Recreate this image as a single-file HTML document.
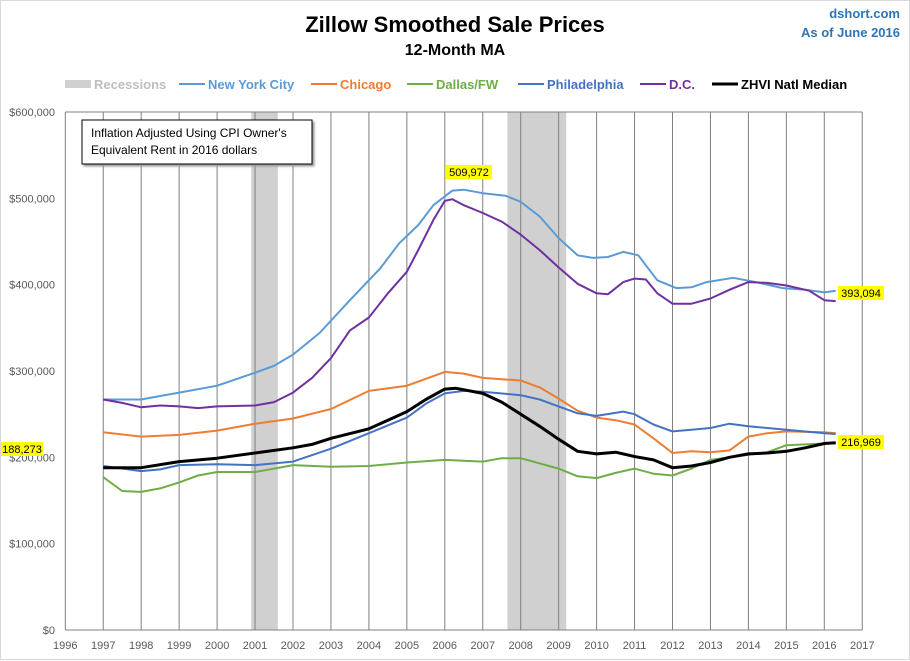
<!DOCTYPE html>
<html><head><meta charset="utf-8"><style>
body{margin:0;background:#fff;font-family:"Liberation Sans",sans-serif}
#wrap{position:relative;width:910px;height:661px;overflow:hidden}
</style></head><body>
<div id="wrap">
<svg id="chart" width="910" height="661" font-family="Liberation Sans, sans-serif"></svg>
</div>
<script>
const yearsNYC=[1997,1998,1998.5,1999,2000,2001,2001.5,2002,2002.7,2003.5,2004.3,2004.8,2005.3,2005.7,2006.2,2006.5,2007,2007.6,2008,2008.5,2009,2009.5,2009.9,2010.3,2010.7,2011.1,2011.6,2012.1,2012.5,2012.9,2013.6,2014.2,2014.9,2015.5,2016,2016.3];
const valsNYC=[267,267,271,275,283,298,306,319,344,382,419,448,469,492,509,510,506,503,496,479,454,434,431,432,438,434,405,396,397,403,408,403,396,394,391,393];
const yearsChi=[1997,1998,1999,2000,2001,2002,2003,2004,2005,2006,2006.5,2007,2008,2008.5,2009,2009.5,2010,2010.5,2011,2011.5,2012,2012.5,2013,2013.5,2014,2014.5,2015,2016,2016.3];
const valsChi=[229,224,226,231,239,245,256,277,283,299,297,292,289,281,268,254,246,243,238,222,205,207,206,208,224,228,230,229,228];
const yearsDal=[1997,1997.5,1998,1998.5,1999,1999.5,2000,2001,2001.5,2002,2003,2004,2005,2006,2007,2007.5,2008,2009,2009.5,2010,2010.5,2011,2011.5,2012,2012.5,2013,2014,2014.5,2015,2016,2016.3];
const valsDal=[177,161,160,164,171,179,183,183,187,191,189,190,194,197,195,199,199,187,178,176,182,187,181,179,187,197,203,206,214,216,216];
const yearsPhi=[1997,1998,1998.5,1999,2000,2001,2002,2003,2004,2005,2005.5,2006,2006.5,2007,2008,2008.5,2009,2009.5,2010,2010.7,2011,2011.5,2012,2012.5,2013,2013.5,2014,2015,2016,2016.3];
const valsPhi=[190,184,186,191,192,191,195,210,228,246,262,274,277,276,272,267,259,251,248,253,250,238,230,232,234,239,236,232,228,227];
const yearsDC=[1997,1997.5,1998,1998.5,1999,1999.5,2000,2001,2001.5,2002,2002.5,2003,2003.5,2004,2004.5,2005,2005.3,2005.7,2006,2006.2,2006.5,2007,2007.5,2008,2008.5,2009,2009.5,2010,2010.3,2010.7,2011,2011.3,2011.6,2012,2012.5,2013,2013.5,2014,2014.5,2015,2015.6,2016,2016.3];
const valsDC=[267,263,258,260,259,257,259,260,264,275,292,315,347,362,390,415,440,475,497,499,492,483,473,458,440,420,401,390,389,403,407,406,390,378,378,384,394,403,402,399,393,382,381];
const yearsZ=[1997,1998,1999,2000,2001,2002,2002.5,2003,2004,2004.5,2005,2005.5,2006,2006.3,2007,2007.5,2008,2008.5,2009,2009.5,2010,2010.5,2011,2011.5,2012,2012.5,2013,2013.5,2014,2014.5,2015,2015.5,2016,2016.3];
const valsZ=[188,188,195,199,205,211,215,222,233,243,253,267,279,280,274,264,250,236,221,207,204,206,201,197,188,190,194,200,204,205,207,211,216,217];
const recessions=[[2000.9,2001.6],[2007.65,2009.2]];
const yTicks=[0,100000,200000,300000,400000,500000,600000];
const xTicks=[1996,1997,1998,1999,2000,2001,2002,2003,2004,2005,2006,2007,2008,2009,2010,2011,2012,2013,2014,2015,2016,2017];

const X0=65.3,PX=37.95,Y0=630,YTOP=112;
const xs=y=>X0+(y-1996)*PX;
const ys=v=>Y0-v/600000*(Y0-YTOP);
const NS="http://www.w3.org/2000/svg";
const svgEl=document.getElementById('chart');
function mk(t,a){const e=document.createElementNS(NS,t);for(const k in a)e.setAttribute(k,a[k]);svgEl.appendChild(e);return e;}
function txt(s,a){const e=mk('text',a);e.textContent=s;return e;}

const borderEl=mk('rect',{x:0.5,y:0.5,width:909,height:659,fill:'none',stroke:'#d9d9d9'});



recessions.forEach(r=>{const e=mk('rect',{x:xs(r[0]),y:YTOP,width:xs(r[1])-xs(r[0]),height:Y0-YTOP,fill:'#d0d0d0'});

});

xTicks.forEach(t=>{const l=mk('line',{x1:xs(t),x2:xs(t),y1:YTOP,y2:Y0,stroke:'#808080','stroke-width':1});


const tl=txt(String(t),{x:xs(t),y:649,'text-anchor':'middle','font-size':11,fill:'#595959'});

});
const plotTop=mk('line',{x1:X0,x2:xs(2017),y1:YTOP,y2:YTOP,stroke:'#808080'});


const plotBottom=mk('line',{x1:X0,x2:xs(2017),y1:Y0,y2:Y0,stroke:'#808080'});


yTicks.forEach(v=>{const tl=txt(v===0?'$0':'$'+v.toLocaleString('en-US'),{x:55,y:ys(v)+4,'text-anchor':'end','font-size':11,fill:'#595959'});

});

function series(years,vals,color,w,name){
 const d=years.map((y,i)=>(i?'L':'M')+xs(y).toFixed(1)+','+ys(vals[i]*1000).toFixed(1)).join('');
 const p=mk('path',{d:d,fill:'none',stroke:color,'stroke-width':w,'stroke-linejoin':'round'});
 
 
}
series(yearsDal,valsDal,'#70ad47',2,'dallas-line');
series(yearsChi,valsChi,'#ed7d31',2,'chicago-line');
series(yearsPhi,valsPhi,'#4472c4',2,'philadelphia-line');
series(yearsNYC,valsNYC,'#5b9bd5',2,'new-york-line');
series(yearsDC,valsDC,'#7030a0',2,'dc-line');
series(yearsZ,valsZ,'#000000',3,'zhvi-line');

function callout(s,x,y,w,name){const r=mk('rect',{x:x,y:y,width:w,height:14,fill:'#ffff00'});


const t=txt(s,{x:x+w/2,y:y+11,'text-anchor':'middle','font-size':11,fill:'#000'});

}
callout('509,972',446,165,46,'peak-label');
callout('393,094',838,286,46,'nyc-end-label');
callout('216,969',838,435,46,'zhvi-end-label');
callout('188,273',1,442,42,'zhvi-start-label');

const noteBox=mk('rect',{x:82,y:120,width:230,height:44,fill:'#fff',stroke:'#000','stroke-width':1,style:'filter:drop-shadow(2px 2px 1px #999)'});


const n1=txt("Inflation Adjusted Using CPI Owner's",{x:91,y:137,'font-size':12,fill:'#000'});


const n2=txt("Equivalent Rent in 2016 dollars",{x:91,y:154,'font-size':12,fill:'#000'});



const t1=txt('Zillow Smoothed Sale Prices',{x:455,y:32,'text-anchor':'middle','font-size':22,'font-weight':'bold',fill:'#000'});


const t2=txt('12-Month MA',{x:455,y:55,'text-anchor':'middle','font-size':16,'font-weight':'bold',fill:'#000'});


const s1=txt('dshort.com',{x:900,y:18,'text-anchor':'end','font-size':13,'font-weight':'bold',fill:'#2e75b6'});


const s2=txt('As of June 2016',{x:900,y:37,'text-anchor':'end','font-size':13,'font-weight':'bold',fill:'#2e75b6'});



const legendItems=[['Recessions','#bfbfbf','#d0d0d0',65,'band'],['New York City','#5b9bd5','#5b9bd5',179,'line'],['Chicago','#ed7d31','#ed7d31',311,'line'],['Dallas/FW','#70ad47','#70ad47',407,'line'],['Philadelphia','#4472c4','#4472c4',518,'line'],['D.C.','#7030a0','#7030a0',640,'line'],['ZHVI Natl Median','#000','#000',712,'line']];
legendItems.forEach(L=>{
 if(L[4]==='band'){const r=mk('rect',{x:L[3],y:80,width:26,height:8,fill:L[2]});
  
  }
 else{const l=mk('line',{x1:L[3],x2:L[3]+26,y1:84,y2:84,stroke:L[2],'stroke-width':L[0].startsWith('ZHVI')?3:2});
  
  }
 const t=txt(L[0],{x:L[3]+29,y:89,'font-size':13,'font-weight':'bold',fill:L[1]});
 
 
});
</script>
</body></html>
